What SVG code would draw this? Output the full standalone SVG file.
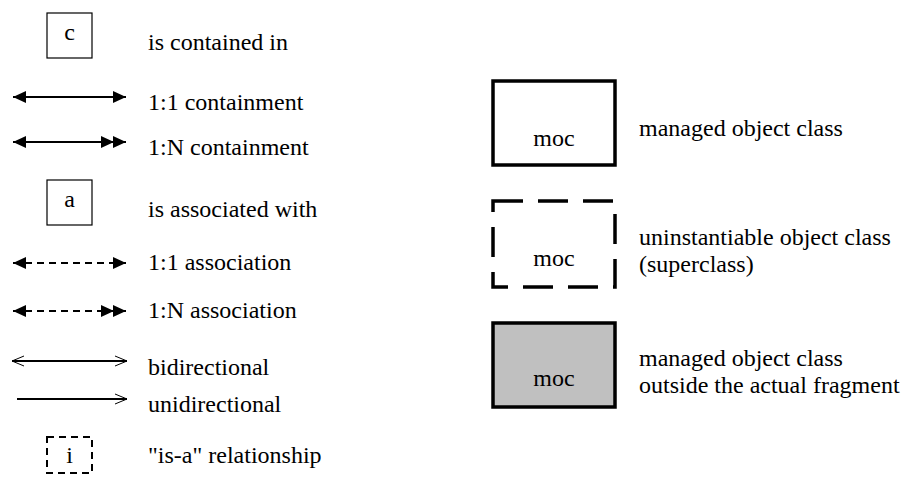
<svg xmlns="http://www.w3.org/2000/svg" width="903" height="483" viewBox="0 0 903 483">
<style>
text{font-family:'Liberation Serif','Times New Roman',serif;font-size:24px;fill:#000}
.mid{text-anchor:middle}
.box{fill:#fff;stroke:#000;stroke-width:1.2}
.dbox{fill:#fff;stroke:#000;stroke-width:2;stroke-dasharray:7,5}
.moc{fill:#fff;stroke:#000;stroke-width:3.5}
.mocd{fill:#fff;stroke:#000;stroke-width:3.5;stroke-dasharray:30,15}
.mocg{fill:#c0c0c0;stroke:#000;stroke-width:3.5}
.ln{stroke:#000;stroke-width:2;fill:none}
.dash{stroke-dasharray:7,5}
</style>
<defs>
<marker id="fh" markerUnits="userSpaceOnUse" markerWidth="14" markerHeight="14" viewBox="0 0 14 14" refX="13" refY="7" orient="auto-start-reverse"><path d="M0,1 L13,7 L0,13 z" fill="#000"/></marker>
<marker id="fh2" markerUnits="userSpaceOnUse" markerWidth="26" markerHeight="14" viewBox="0 0 26 14" refX="25" refY="7" orient="auto"><path d="M0,1 L13,7 L0,13 z M12,1 L25,7 L12,13 z" fill="#000"/></marker>
<marker id="oh" markerUnits="userSpaceOnUse" markerWidth="14" markerHeight="14" viewBox="0 0 14 14" refX="13" refY="7" orient="auto-start-reverse"><path d="M1,2 L13,7 L1,12" fill="none" stroke="#000" stroke-width="1"/></marker>
</defs>
<g id="contained">
<rect class="box" x="47" y="13" width="45" height="45"/>
<text class="mid" x="69.5" y="40">c</text>
<text x="148" y="50">is contained in</text>
</g>
<g id="associated">
<rect class="box" x="47" y="180" width="45" height="45"/>
<text class="mid" x="69.5" y="207">a</text>
<text x="148" y="217">is associated with</text>
</g>
<g id="isa">
<rect class="dbox" x="47" y="437" width="45" height="36"/>
<text class="mid" x="69.5" y="463">i</text>
<text x="148" y="463">"is-a" relationship</text>
</g>

<g id="connectors">
<line class="ln" x1="13" y1="97" x2="126" y2="97" marker-start="url(#fh)" marker-end="url(#fh)"/>
<line class="ln" x1="13" y1="142" x2="126" y2="142" marker-start="url(#fh)" marker-end="url(#fh2)"/>
<line class="ln dash" x1="13" y1="263" x2="126" y2="263" marker-start="url(#fh)" marker-end="url(#fh)"/>
<line class="ln dash" x1="13" y1="311" x2="126" y2="311" marker-start="url(#fh)" marker-end="url(#fh2)"/>
<line class="ln" x1="12" y1="361" x2="127" y2="361" marker-start="url(#oh)" marker-end="url(#oh)"/>
<line class="ln" x1="17" y1="399" x2="127" y2="399" marker-end="url(#oh)"/>
</g>
<g id="connector-labels">
<text x="148" y="110">1:1 containment</text>
<text x="148" y="155">1:N containment</text>
<text x="148" y="270">1:1 association</text>
<text x="148" y="318">1:N association</text>
<text x="148" y="375">bidirectional</text>
<text x="148" y="412">unidirectional</text>
</g>

<g id="moc-managed">
<rect class="moc" x="493" y="81" width="122" height="84"/>
<text class="mid" x="554" y="146">moc</text>
<text x="639" y="136">managed object class</text>
</g>
<g id="moc-uninstantiable">
<rect class="mocd" x="493" y="201" width="122" height="86"/>
<text class="mid" x="554" y="266">moc</text>
<text x="639" y="245">uninstantiable object class</text>
<text x="639" y="272">(superclass)</text>
</g>
<g id="moc-outside">
<rect class="mocg" x="493" y="323" width="122" height="84"/>
<text class="mid" x="554" y="386">moc</text>
<text x="639" y="366">managed object class</text>
<text x="639" y="393">outside the actual fragment</text>
</g>
</svg>
